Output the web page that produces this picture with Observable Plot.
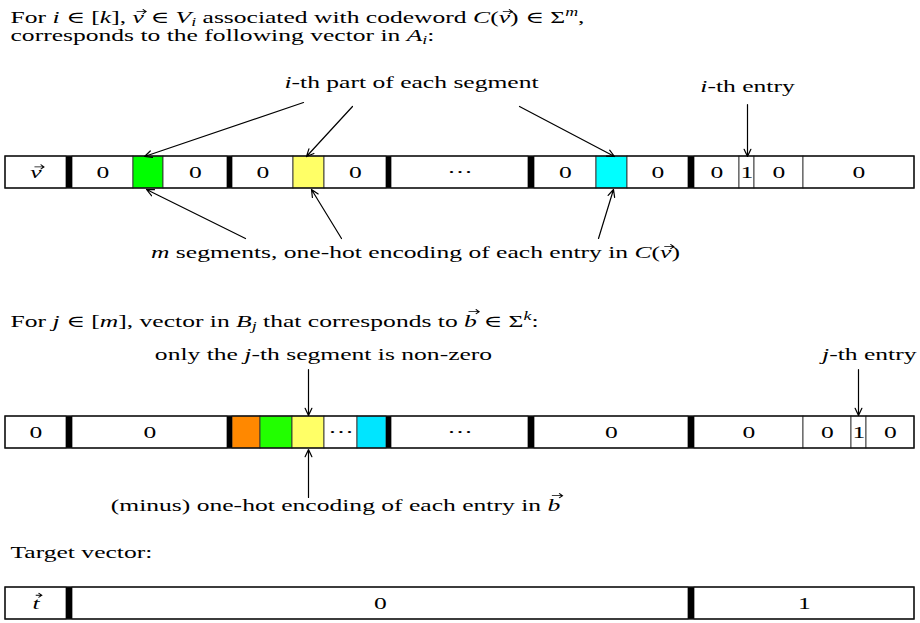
<!DOCTYPE html>
<html><head><meta charset="utf-8">
<script src="https://cdn.jsdelivr.net/npm/d3@7"></script>
<script src="https://cdn.jsdelivr.net/npm/@observablehq/plot@0.6"></script>
<style>body{margin:0;background:#fff;}</style>
</head><body><div id="chart"></div>
<script>
const FONT = "'Liberation Serif', 'DejaVu Serif', serif";
const FS = 16.5;    // vertical size of the text
const SX = 1.55;    // horizontal stretch of the text (reference glyphs are wide)

// ---- Row A: vector in A_i ----
const rowA_edges  = [5,66,72,133,163,227,232,293,324,386,391,528,534,596,627,688,694,739,754,803,914];
const rowA_labels = ["@v","","0","","0","","0","","0","","···","","0","","0","","0","1","0","0"];
const rowA_kinds  = ["cell","bar","cell","green","cell","bar","cell","yellow","cell","bar","cell","bar","cell","cyan","cell","bar","cell","cell","cell","cell"];
const rowA_span = [156,188];

// ---- Row B: vector in B_j ----
const rowB_edges  = [5,66,72,227,232,260,292,324,357,386,391,528,534,688,694,803,851,866,914];
const rowB_labels = ["0","","0","","","","","···","","","···","","0","","0","0","1","0"];
const rowB_kinds  = ["cell","bar","cell","bar","orange","green2","yellow","cell","cyan2","bar","cell","bar","cell","bar","cell","cell","cell","cell"];
const rowB_span = [416,448];

// ---- Row C: target vector ----
const rowC_edges  = [5,66,72,688,694,914];
const rowC_labels = ["@t","","0","","1"];
const rowC_kinds  = ["cell","bar","cell","bar","cell"];
const rowC_span = [587,619];

const kindFill = {cell:"white", bar:"black", green:"#00ff00", green2:"#22ff00", yellow:"#ffff66",
                  cyan:"#00ffff", cyan2:"#00e5ff", orange:"#ff8800"};

// ---- annotations ----
const noteText = [
  "For *i* ∈ [*k*], @v ∈ *V*~*i*~ associated with codeword *C*(@v) ∈ Σ^*m*^,",
  "corresponds to the following vector in *A*~*i*~:",
  "*i*-th part of each segment",
  "*i*-th entry",
  "*m* segments, one-hot encoding of each entry in *C*(@v)",
  "For *j* ∈ [*m*], vector in *B*~*j*~ that corresponds to @b ∈ Σ^*k*^:",
  "only the *j*-th segment is non-zero",
  "*j*-th entry",
  "(minus) one-hot encoding of each entry in @b",
  "Target vector:"
];
const noteX      = [10, 10, 411, 747, 415, 10, 323, 916, 335, 10];
const noteY      = [22, 40, 87, 91, 257, 326, 359, 359, 510, 557];
const noteAnchor = ["start","start","middle","middle","middle","start","middle","end","middle","start"];

// ---- arrows ----
const arrowFrom = [[303,102],[352,106],[519,106],[747,104],[245,238],[341,238],[598,238],[308,369],[858,369],[308,497]];
const arrowTo   = [[144,156],[306,156],[614,156],[747,156],[146,189],[311,189],[613,189],[308,415],[858,415],[308,449]];

// ---- build tables ----
function buildRow(edges, labels, kinds, span, row){
  return labels.map((l,i)=>({row, x1:edges[i], x2:edges[i+1], y1:span[0], y2:span[1], label:l, kind:kinds[i]}));
}
const cells = [
  ...buildRow(rowA_edges,rowA_labels,rowA_kinds,rowA_span,"A"),
  ...buildRow(rowB_edges,rowB_labels,rowB_kinds,rowB_span,"B"),
  ...buildRow(rowC_edges,rowC_labels,rowC_kinds,rowC_span,"C")
];
const frames = [
  {x1:rowA_edges[0],x2:rowA_edges.at(-1),y1:rowA_span[0],y2:rowA_span[1]},
  {x1:rowB_edges[0],x2:rowB_edges.at(-1),y1:rowB_span[0],y2:rowB_span[1]},
  {x1:rowC_edges[0],x2:rowC_edges.at(-1),y1:rowC_span[0],y2:rowC_span[1]}
];
const notes = noteText.map((t,i)=>({t, x:noteX[i], y:noteY[i], a:noteAnchor[i]}));
const arrows = arrowFrom.map((f,i)=>({x1:f[0],y1:f[1],x2:arrowTo[i][0],y2:arrowTo[i][1]}));

// ---- rich text mini-markup: *italic*, ~sub~, ^sup^, @x = vector x ----
function parse(m){
  const runs=[]; let it=false,pos=0,buf="";
  const flush=()=>{ if(buf){runs.push({s:buf,it,pos}); buf="";} };
  for(let i=0;i<m.length;i++){
    const c=m[i];
    if(c==="*"){flush(); it=!it;}
    else if(c==="~"){flush(); pos = pos===1?0:1;}
    else if(c==="^"){flush(); pos = pos===-1?0:-1;}
    else if(c==="@"){flush(); runs.push({s:m[i+1], it:true, pos, vec:true}); i++;}
    else buf+=c;
  }
  flush(); return runs;
}
const plain = m => parse(m).map(r=>r.s).join("");
const markupMap = new Map();
[...noteText, ...cells.map(c=>c.label)].forEach(m=>markupMap.set(plain(m), m));

const labelCells = cells.filter(c=>c.label!=="");

const chart = Plot.plot({
  width:920, height:623, margin:0,
  x:{domain:[0,920], range:[0,920], axis:null},
  y:{domain:[0,623], range:[0,623], axis:null},
  style:{fontFamily:FONT, background:"white", overflow:"visible"},
  marks:[
    Plot.rect(cells.filter(c=>c.kind!=="bar"), {x1:"x1",x2:"x2",y1:"y1",y2:"y2", fill:d=>kindFill[d.kind], stroke:"#333", strokeWidth:0.9}),
    Plot.rect(cells.filter(c=>c.kind==="bar"), {x1:"x1",x2:"x2",y1:"y1",y2:"y2", fill:"black"}),
    Plot.rect(frames, {x1:"x1",x2:"x2",y1:"y1",y2:"y2", fill:"none", stroke:"#111", strokeWidth:1.4}),
    Plot.text(labelCells, {x:d=>(d.x1+d.x2)/2, y:d=>(d.y1+d.y2)/2, text:d=>plain(d.label), fontSize:FS, fill:"black", lineAnchor:"middle"}),
    Plot.text(notes, {x:"x", y:"y", text:d=>plain(d.t), fontSize:FS, fill:"black", lineAnchor:"bottom"}),
    Plot.arrow(arrows, {x1:"x1",y1:"y1",x2:"x2",y2:"y2", stroke:"black", strokeWidth:1.2, headLength:10, headAngle:50})
  ]
});
document.getElementById("chart").appendChild(chart);

// ---- post-process texts: anchors, italics, sub/superscripts, stretch, vector arrows ----
const ns="http://www.w3.org/2000/svg";
const vecLift = {v:0.66, t:0.82, b:0.9};
chart.querySelectorAll("text").forEach(el=>{
  const p = el.textContent;
  const m = markupMap.get(p);
  const note = notes.find(n=>plain(n.t)===p);
  if(note) el.setAttribute("text-anchor", note.a);
  const tr = (el.getAttribute("transform")||"") + ` scale(${SX},1)`;
  el.setAttribute("transform", tr);
  if(!m) return;
  const runs = parse(m);
  while(el.firstChild) el.removeChild(el.firstChild);
  let cur=0, idx=0; const vecs=[];
  for(const r of runs){
    const ts=document.createElementNS(ns,"tspan");
    const target = r.pos===1 ? 0.22*FS : r.pos===-1 ? -0.4*FS : 0;
    if(target!==cur){ ts.setAttribute("dy", target-cur); cur=target; }
    if(r.it) ts.setAttribute("font-style","italic");
    if(r.pos) ts.setAttribute("font-size", 0.7*FS);
    ts.textContent=r.s;
    el.appendChild(ts);
    if(r.vec) vecs.push({idx, ch:r.s});
    idx += r.s.length;
  }
  for(const v of vecs){
    const a = el.getStartPositionOfChar(v.idx), b = el.getEndPositionOfChar(v.idx);
    const w = b.x - a.x;
    const y = a.y - (vecLift[v.ch]||0.7)*FS;
    const xs = a.x + 0.2*w + 1.2, xe = a.x + w + 1.5;
    const path = document.createElementNS(ns,"path");
    path.setAttribute("d", `M${xs},${y}H${xe}M${xe-2.2},${y-2.3}L${xe},${y}L${xe-2.2},${y+2.3}`);
    path.setAttribute("fill","none");
    path.setAttribute("stroke","black");
    path.setAttribute("stroke-width","0.8");
    path.setAttribute("transform", tr);
    el.parentNode.appendChild(path);
  }
});
</script>
</body></html>
